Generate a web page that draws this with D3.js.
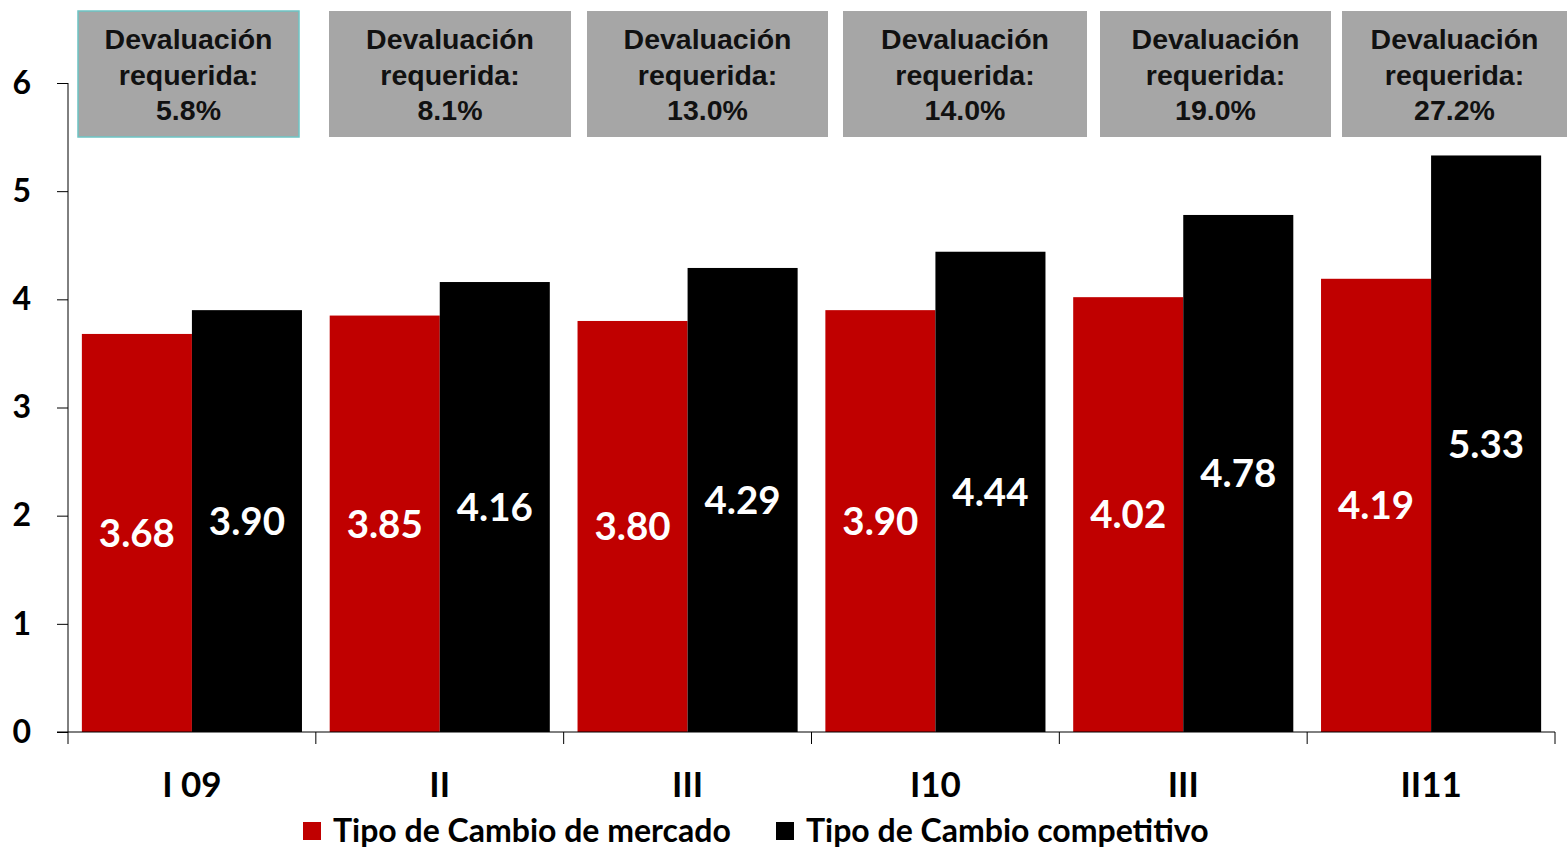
<!DOCTYPE html>
<html><head><meta charset="utf-8">
<script src="https://cdn.jsdelivr.net/npm/d3@7"></script>
<style>body{margin:0;background:#fff}svg{display:block}</style>
</head><body>
<svg id="c" width="1567" height="848"></svg>
<script>
const categories = ["I 09","II","III","I10","III","II11"];
const mercado = [3.68,3.85,3.80,3.90,4.02,4.19];
const competitivo = [3.90,4.16,4.29,4.44,4.78,5.33];
const devaluacion = ["5.8%","8.1%","13.0%","14.0%","19.0%","27.2%"];
const yTicks = [0,1,2,3,4,5,6];
const seriesNames = ["Tipo de Cambio de mercado","Tipo de Cambio competitivo"];
const colors = ["#C00000","#000000"];

// layout
const boxLayout = [[78,221],[329,242],[587,241],[843,244],[1100,231],[1342,225]];
const svg = d3.select("#c");
const x = d3.scaleBand().domain(d3.range(categories.length)).range([68,1555]).paddingInner(0).paddingOuter(0);
const y = d3.scaleLinear().domain([0,6]).range([732,83]);
const inner = d3.scaleBand().domain([0,1]).range([0,x.bandwidth()]).paddingOuter(0.126).paddingInner(0);

const font = "Lato, 'Open Sans', sans-serif";

// bars
const groups = svg.append("g").selectAll("g").data(categories).join("g")
  .attr("transform",(d,i)=>`translate(${x(i)},0)`);
[mercado,competitivo].forEach((s,si)=>{
  groups.append("rect")
    .attr("x",inner(si)).attr("width",inner.bandwidth())
    .attr("y",(d,i)=>y(s[i])).attr("height",(d,i)=>y(0)-y(s[i]))
    .attr("fill",colors[si]);
  groups.append("text")
    .attr("x",inner(si)+inner.bandwidth()/2)
    .attr("y",(d,i)=>(y(s[i])+y(0))/2)
    .attr("dy","0.36em")
    .attr("text-anchor","middle").attr("fill","#fff")
    .attr("font-family",font).attr("font-weight","bold").attr("font-size",38.5)
    .text((d,i)=>s[i].toFixed(2));
});

// y axis
const yAxis = svg.append("g").attr("transform","translate(68,0)")
  .call(d3.axisLeft(y).tickValues(yTicks).tickSize(11).tickPadding(26).tickFormat(d3.format("d")));
yAxis.select(".domain").attr("stroke","#000").attr("d","M0,"+y(6)+"V"+y(0));
yAxis.selectAll(".tick line").attr("stroke","#000");
yAxis.selectAll("text").attr("font-family",font).attr("font-weight","bold").attr("font-size",32).attr("fill","#000");

// x axis
const xAxis = svg.append("g").attr("transform",`translate(0,${y(0)})`);
xAxis.append("line").attr("x1",57).attr("x2",1555).attr("stroke","#000");
xAxis.selectAll("line.t").data(d3.range(categories.length+1)).join("line").attr("class","t")
  .attr("x1",i=>i<categories.length?x(i):x(categories.length-1)+x.bandwidth())
  .attr("x2",i=>i<categories.length?x(i):x(categories.length-1)+x.bandwidth())
  .attr("y1",0).attr("y2",12).attr("stroke","#000");
xAxis.selectAll("text").data(categories).join("text")
  .attr("x",(d,i)=>x(i)+x.bandwidth()/2).attr("y",65)
  .attr("text-anchor","middle").attr("font-family",font).attr("font-weight","bold").attr("font-size",35)
  .text(d=>d);

// boxes
const bx = svg.append("g").selectAll("g").data(devaluacion).join("g");
bx.append("rect").attr("x",(d,i)=>boxLayout[i][0]).attr("width",(d,i)=>boxLayout[i][1])
  .attr("y",11).attr("height",126).attr("fill","#A6A6A6")
  .attr("stroke",(d,i)=>i===0?"#6CC4C4":"none").attr("stroke-width",1.5);
bx.each(function(d,i){
  const g=d3.select(this);
  const cx=boxLayout[i][0]+boxLayout[i][1]/2;
  ["Devaluación","requerida:",d].forEach((t,k)=>{
    g.append("text").attr("x",cx).attr("y",49+k*35.5).attr("text-anchor","middle")
      .attr("font-family","'Liberation Sans', Arial, sans-serif").attr("font-weight","bold")
      .attr("font-size",28.5).attr("fill","#111").text(t);
  });
});

// legend
const legX=[303,776];
const lg = svg.append("g").selectAll("g").data(seriesNames).join("g")
  .attr("transform",(d,i)=>`translate(${legX[i]},0)`);
lg.append("rect").attr("x",0).attr("y",822).attr("width",18).attr("height",18).attr("fill",(d,i)=>colors[i]);
lg.append("text").attr("x",30).attr("y",842).attr("font-family",font).attr("font-weight","bold")
  .attr("font-size",32).text(d=>d);
</script>
</body></html>
